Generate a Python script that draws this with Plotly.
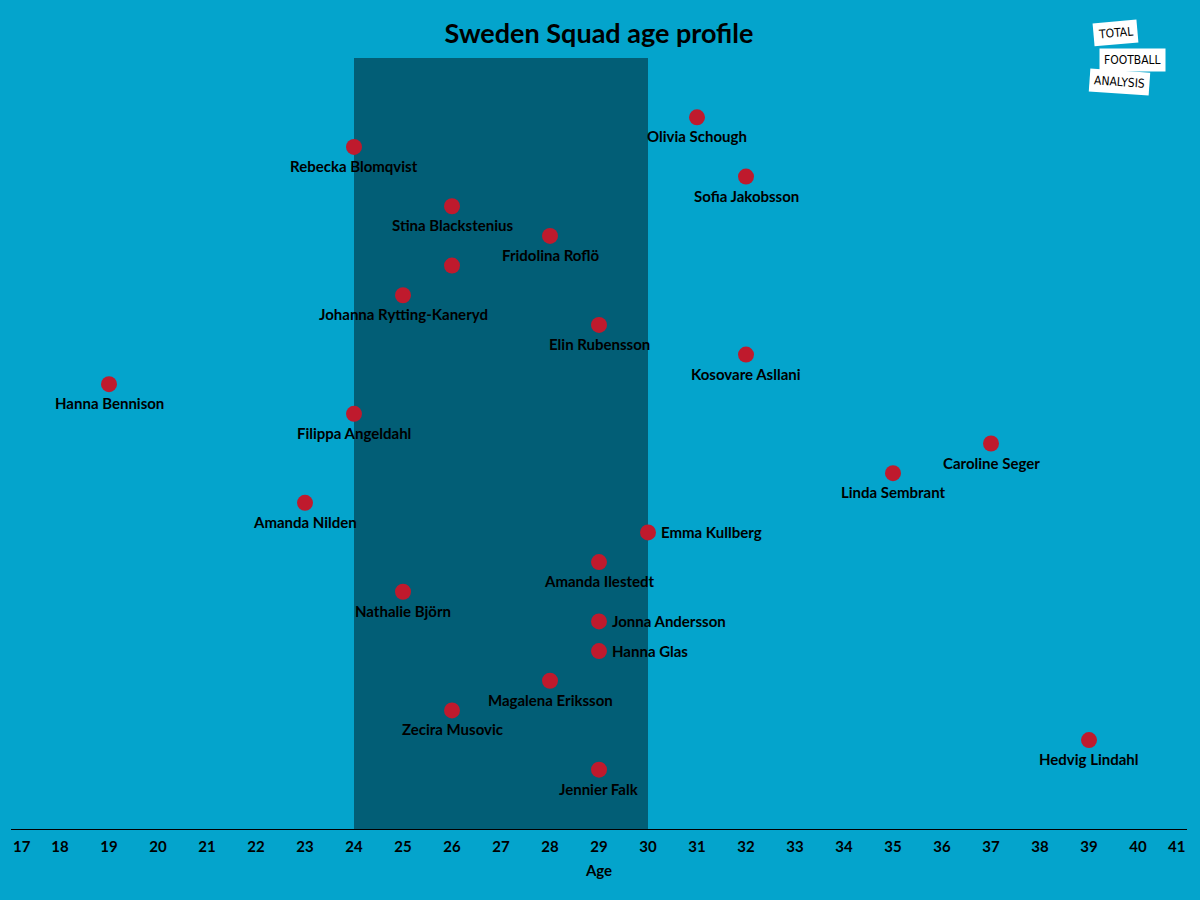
import plotly.graph_objects as go

players = ["Olivia Schough", "Rebecka Blomqvist", "Sofia Jakobsson", "Stina Blackstenius",
           "Fridolina Roflö", "", "Johanna Rytting-Kaneryd", "Elin Rubensson",
           "Kosovare Asllani", "Hanna Bennison", "Filippa Angeldahl", "Caroline Seger",
           "Linda Sembrant", "Amanda Nilden", "Emma Kullberg", "Amanda Ilestedt",
           "Nathalie Björn", "Jonna Andersson", "Hanna Glas", "Magalena Eriksson",
           "Zecira Musovic", "Hedvig Lindahl", "Jennier Falk"]
ages = [31, 24, 32, 26, 28, 26, 25, 29, 32, 19, 24, 37, 35, 23, 30, 29, 25, 29, 29, 28, 26, 39, 29]
rows = list(range(1, len(players) + 1))
label_side = ["below"] * len(players)
for nm in ["Emma Kullberg", "Jonna Andersson", "Hanna Glas"]:
    label_side[players.index(nm)] = "right"

peak_start, peak_end = 24, 30
x_min, x_max = 17, 41
x_ticks = list(range(x_min + 1, x_max))

BG = "#04A4CC"
DARK = "#025E76"
RED = "#BF1A2D"
FONT = "Lato"

W, H = 1200, 900
ML, MR, MT, MB = 11, 13, 58, 71

fig = go.Figure()
fig.add_shape(type="rect", xref="x", yref="paper", x0=peak_start, x1=peak_end, y0=0, y1=1,
              fillcolor=DARK, line_width=0, layer="below")
fig.add_trace(go.Scatter(x=ages, y=rows, mode="markers",
                         marker=dict(color=RED, size=16, line_width=0),
                         hoverinfo="skip", showlegend=False))

lab_font = dict(family=FONT, size=15, color="black", weight="bold")
for nm, a, r, side in zip(players, ages, rows, label_side):
    if not nm:
        continue
    if side == "below":
        fig.add_annotation(x=a, y=r, text=nm, showarrow=False, yshift=-19, font=lab_font)
    else:
        fig.add_annotation(x=a, y=r, text=nm, showarrow=False, xanchor="left", xshift=11,
                           font=lab_font)

tick_font = dict(family=FONT, size=15, color="black", weight="bold")
# edge tick labels, drawn inward like the reference
fig.add_annotation(x=x_min, yref="paper", y=0, text=str(x_min), showarrow=False,
                   xanchor="center", yanchor="middle", xshift=11, yshift=-17, font=tick_font)
fig.add_annotation(x=x_max, yref="paper", y=0, text=str(x_max), showarrow=False,
                   xanchor="center", yanchor="middle", xshift=-11, yshift=-17, font=tick_font)

pw, ph = W - ML - MR, H - MT - MB
def px(xp):
    return (xp - ML) / pw
def py(yp):
    return (H - MB - yp) / ph

logo = [("TOTAL", 1115, 33, -5), ("FOOTBALL", 1132, 60, 0), ("ANALYSIS", 1119, 82, 4)]
for txt, lx, ly, ang in logo:
    fig.add_annotation(xref="paper", yref="paper", x=px(lx), y=py(ly), text=txt,
                       xanchor="center", yanchor="middle",
                       showarrow=False, textangle=ang, bgcolor="white",
                       borderpad=4, font=dict(family="DejaVu Sans Condensed", size=12, color="black"))

fig.update_layout(
    width=W, height=H,
    paper_bgcolor=BG, plot_bgcolor=BG,
    margin=dict(l=ML, r=MR, t=MT, b=MB, autoexpand=False),
    title=dict(text="Sweden Squad age profile", x=0.5, xref="paper", y=1 - 34 / H, yanchor="middle",
               font=dict(family=FONT, size=27, color="black", weight="bold")),
    xaxis=dict(range=[x_min, x_max], tickvals=x_ticks, ticktext=[str(t) for t in x_ticks],
               automargin=False,
               showgrid=False, zeroline=False, showline=True, linecolor="black", linewidth=1,
               ticks="outside", ticklen=4, tickcolor=BG,
               tickfont=tick_font,
               title=dict(text="Age", standoff=11,
                          font=dict(family=FONT, size=15, color="black", weight="bold"))),
    yaxis=dict(range=[25, -1], visible=False, showgrid=False, zeroline=False, automargin=False),
)

fig.write_html("out.html", config={"displayModeBar": False},
               post_script="document.body.style.margin='0';")
